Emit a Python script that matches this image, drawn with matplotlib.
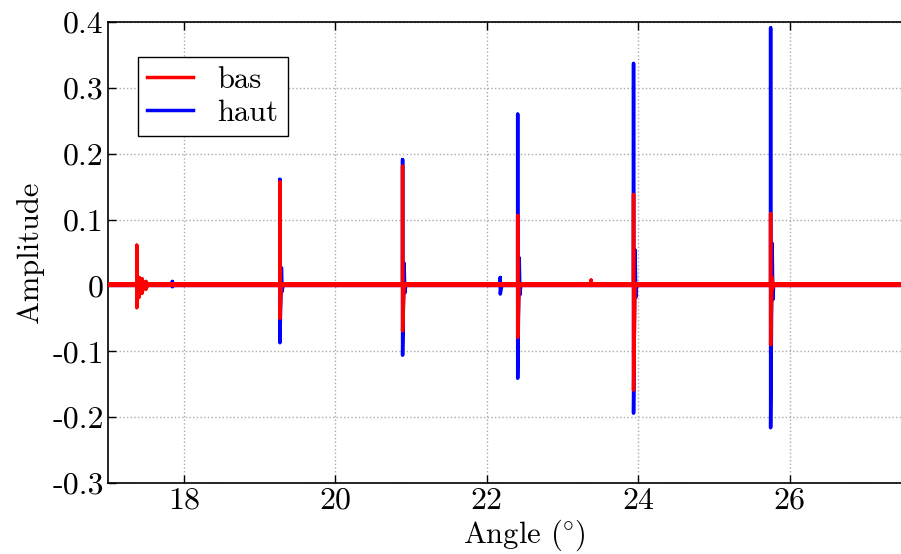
import matplotlib
matplotlib.use("Agg")
import matplotlib.pyplot as plt
from matplotlib.lines import Line2D

plt.rcParams["font.family"] = "cmr10"
plt.rcParams["mathtext.fontset"] = "cm"
plt.rcParams["axes.unicode_minus"] = False

# spikes (angle in degrees, amplitude)
haut_spike_angle = [17.85, 19.27, 20.89, 22.18, 22.41, 23.94, 25.75]
haut_spike_max = [0.006, 0.161, 0.191, 0.012, 0.260, 0.337, 0.391]
haut_spike_min = [-0.002, -0.087, -0.106, -0.013, -0.141, -0.194, -0.216]
haut_after_max = [0.0, 0.027, 0.034, 0.0, 0.042, 0.054, 0.064]

bas_spike_angle = [17.38, 17.41, 17.45, 17.50, 19.27, 20.89, 22.41, 23.38, 23.94, 25.75]
bas_spike_max = [0.061, 0.012, 0.010, 0.006, 0.157, 0.181, 0.106, 0.008, 0.138, 0.109]
bas_spike_min = [-0.034, -0.018, -0.012, -0.006, -0.050, -0.069, -0.079, 0.0, -0.159, -0.090]
bas_after_max = [0.0, 0.0, 0.0, 0.0, 0.0, 0.0, 0.0, 0.0, 0.0, 0.012]

# background noise envelope around zero
noise_low = -0.003
noise_high = 0.0055

angle_range = [17.0, 28.0]
xticks = [18, 20, 22, 24, 26]
yticks = [-0.3, -0.2, -0.1, 0, 0.1, 0.2, 0.3, 0.4]
ytick_labels = ["-0.3", "-0.2", "-0.1", "0", "0.1", "0.2", "0.3", "0.4"]


def build_trace(angles, maxs, mins, afters):
    x = [angle_range[0]]
    y = [0.0]
    for a, hi, lo, af in zip(angles, maxs, mins, afters):
        x += [a, a, a, a + 0.02, a + 0.03, a + 0.04]
        y += [0.0, hi, lo, af, -af / 3, 0.0]
    x.append(angle_range[1])
    y.append(0.0)
    return x, y


haut_x, haut_y = build_trace(haut_spike_angle, haut_spike_max, haut_spike_min, haut_after_max)
bas_x, bas_y = build_trace(bas_spike_angle, bas_spike_max, bas_spike_min, bas_after_max)

fig = plt.figure(figsize=(9.01, 5.54), dpi=100)
# the axes runs past the right edge of the picture, as in the original crop
ax = fig.add_axes([108 / 901, 71 / 554, 833 / 901, 461 / 554])

ax.plot(haut_x, haut_y, color="blue", lw=2.5, zorder=2)
ax.plot(bas_x, bas_y, color="red", lw=2.5, zorder=3)
ax.fill_between(angle_range, noise_low, noise_high, color="red", lw=0, zorder=3)

ax.set_xlim(angle_range)
ax.set_ylim(-0.3, 0.4)
ax.set_xticks(xticks)
ax.set_xticklabels([str(t) for t in xticks])
ax.set_yticks(yticks)
ax.set_yticklabels(ytick_labels)
ax.tick_params(direction="in", length=6, width=1, top=True, right=True,
               labelsize=23, pad=3)
ax.grid(True, linestyle=":", color="#aaaaaa", lw=1)
ax.set_axisbelow(True)
for s in ax.spines.values():
    s.set_linewidth(1.2)

ax.set_xlabel(r"Angle ($\!^\circ\!$)", fontsize=22, labelpad=2)
ax.set_ylabel("Amplitude", fontsize=22, labelpad=6)

handles = [Line2D([], [], color="red", lw=2.5), Line2D([], [], color="blue", lw=2.5)]
leg = ax.legend(handles, ["bas", "haut"], loc="upper left",
                bbox_to_anchor=(30 / 833, 1 - 35 / 461), borderaxespad=0,
                fontsize=22, handlelength=1.5, fancybox=False, framealpha=1,
                edgecolor="black", labelspacing=0.2, borderpad=0.3)
leg.get_frame().set_linewidth(1.0)

fig.savefig("out.png", dpi=100)
